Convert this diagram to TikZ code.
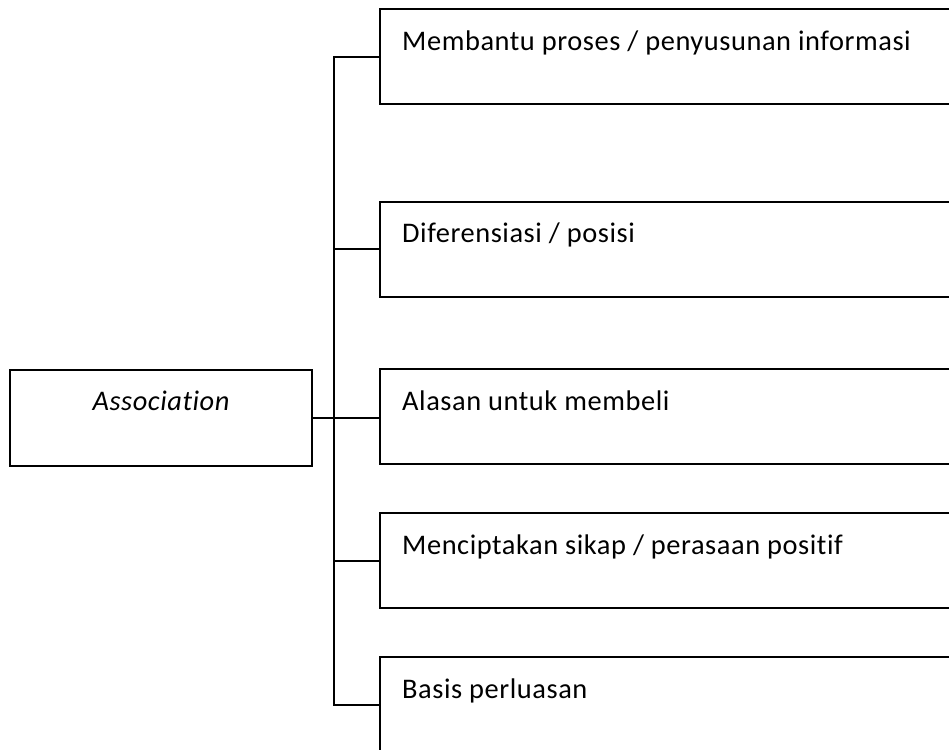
\documentclass[tikz,border=0pt]{standalone}
\usepackage{fontspec}
\setmainfont{Carlito}[LetterSpace=2,Ligatures={NoCommon}]
\begin{document}
\begin{tikzpicture}[x=1pt,y=-1pt,
  box/.style={draw=black,line width=2pt,rectangle,inner sep=0pt,outer sep=0pt,anchor=north west},
  rbox/.style={box,minimum width=640pt,minimum height=95pt},
  txt/.style={inner sep=0pt,anchor=base west,font=\fontsize{28.4}{33}\selectfont},
  conn/.style={draw=black,line width=2pt}]
\clip (0,0) rectangle (949,749);
\fill[white] (0,0) rectangle (949,749);
% left box
\node[box,minimum width=301.7pt,minimum height=96.3pt] (assoc) at (10,369.7) {};
\node[txt,anchor=base] (assoctxt) at (161,410) {\itshape Association};
% right boxes
\node[rbox] (b1) at (380,9.3) {};
\node[rbox] (b2) at (380,201.7) {};
\node[rbox] (b3) at (380,369.3) {};
\node[rbox] (b4) at (380,513.3) {};
\node[rbox] (b5) at (380,657.3) {};
\node[txt] (t1) at (402,50.3) {Membantu proses / penyusunan informasi};
\node[txt] (t2) at (402,242.2) {Diferensiasi / posisi};
\node[txt] (t3) at (402,410) {Alasan untuk membeli};
\node[txt] (t4) at (402,554) {Menciptakan sikap / perasaan positif};
\node[txt] (t5) at (402,698) {Basis perluasan};
% connectors
\coordinate (spinex) at (334,0);
\draw[conn] (b1.west) -- (b1.west -| spinex) |- (b5.west);
\draw[conn] (b2.west) -- (b2.west -| spinex);
\draw[conn] (b4.west) -- (b4.west -| spinex);
\draw[conn] (assoc.east) -- (assoc.east -| b3.west);
\end{tikzpicture}
\end{document}
